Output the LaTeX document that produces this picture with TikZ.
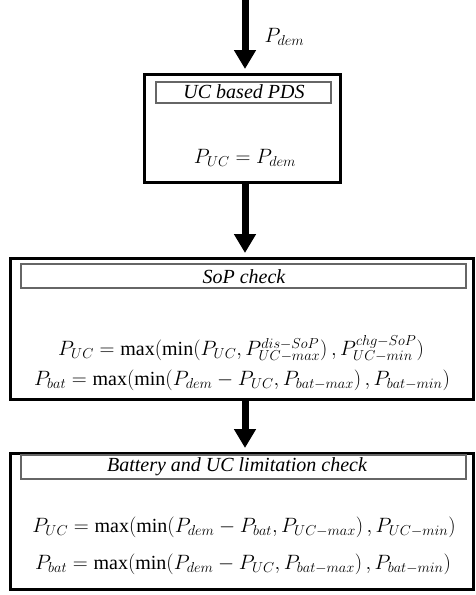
\documentclass[tikz,border=0pt]{standalone}
\usepackage{fontspec}
\setmainfont{Liberation Serif}
\usetikzlibrary{arrows.meta,positioning,calc}
\begin{document}
\begin{tikzpicture}[x=1pt,y=-1pt,
  outerbox/.style={draw=black, line width=3pt, inner sep=0pt, minimum width=#1},
  titlebox/.style={draw=black!60, line width=1.2pt, inner sep=0pt, minimum height=22pt},
  titletext/.style={font=\fontsize{20}{24}\selectfont\itshape, inner sep=0pt},
  eqtext/.style={font=\fontsize{20}{24}\selectfont, inner sep=0pt},
  flowarrow/.style={line width=7pt, -{Triangle[width=21pt,length=19pt]}, shorten >=4pt}
]
\useasboundingbox (0,0) rectangle (476,595);

% boxes
\node[outerbox=196pt, minimum height=108pt] (b1) at (242.5,128.5) {};
\node[outerbox=463pt, minimum height=141pt] (b2) at (242,329) {};
\node[outerbox=463pt, minimum height=136pt] (b3) at (242,521.5) {};

% title boxes
\node[titlebox, minimum width=175pt, minimum height=21pt] (t1) at (243.5,92.5) {};
\node[titlebox, minimum width=445pt, minimum height=24pt] (t2) at (243.5,276) {};
\node[titlebox, minimum width=445pt, minimum height=24pt] (t3) at (243.5,467) {};

\node[titletext] (t1txt) at (244,92) {UC based PDS};
\node[titletext] (t2txt) at (244,277) {SoP check};
\node[titletext] (t3txt) at (237,467) {Battery and UC limitation check};

% equations
\node[eqtext] (e1) at (245,158) {$P_{UC}=P_{dem}$};
\node[eqtext] (e2) at (241,349) {$P_{UC}=\max\Bigl(\min\Bigl(P_{UC},P^{dis-SoP}_{UC-max}\Bigr)\,,P^{chg-SoP}_{UC-min}\Bigr)$};
\node[eqtext] (e3) at (242,380) {$P_{bat}=\max(\min(P_{dem}-P_{UC},P_{bat-max})\,,P_{bat-min})$};
\node[eqtext] (e4) at (244,527) {$P_{UC}=\max(\min(P_{dem}-P_{bat},P_{UC-max})\,,P_{UC-min})$};
\node[eqtext] (e5) at (243,564) {$P_{bat}=\max(\min(P_{dem}-P_{UC},P_{bat-max})\,,P_{bat-min})$};

% arrows
\coordinate (start) at (245,0);
\draw[flowarrow] (start) -- ([xshift=2.5pt]b1.north)
  node[midway, anchor=west, xshift=16pt, eqtext] (pdem) {$P_{dem}$};
\draw[flowarrow] ([xshift=2.5pt]b1.south) -- ([xshift=3pt]b2.north);
\draw[flowarrow] ([xshift=3pt]b2.south) -- ([xshift=3pt]b3.north);
\end{tikzpicture}
\end{document}
